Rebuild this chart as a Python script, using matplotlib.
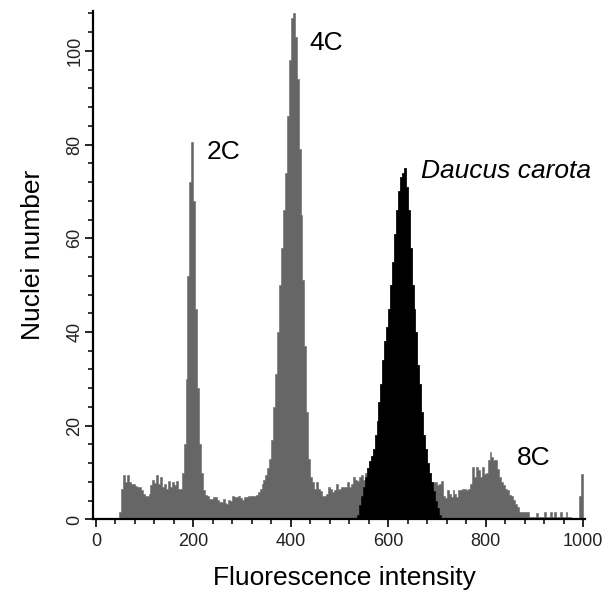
import numpy as np
import matplotlib.pyplot as plt
import matplotlib as mpl
from matplotlib.ticker import MultipleLocator

# Set Matplotlib Defaults
mpl.rcParams["font.family"] = "sans-serif"
mpl.rcParams["font.sans-serif"] = ["Liberation Sans", "DejaVu Sans"]

# Histogram channels (width 4 intensity units)
bin_width = 4
bin_start = 0
bin_stop = 1000

# total nuclei counts per channel (grey histogram), one row per 40 units
all_counts = [
    0, 0, 0, 0, 0, 0, 0, 0, 0, 0,
    0, 0, 1.5, 6.5, 9.4, 8, 9.4, 8, 7.6, 7.6,
    7.2, 6.9, 6.9, 6.2, 5.5, 5.1, 5.1, 5.5, 7.3, 8.5,
    7.8, 9.4, 7.5, 9, 7, 7.5, 6.5, 8.3, 7, 8,
    7.3, 8.3, 6.6, 6.5, 10, 16, 30, 52, 72, 80.6,
    68, 45, 28, 16, 10, 6.2, 5.2, 5, 4.4, 4.4,
    4.8, 4.8, 4.1, 3.7, 3.7, 4.4, 3.5, 3.3, 4.1, 4,
    5.1, 4.8, 4.8, 5.1, 4.5, 4.1, 4.8, 4.8, 5.1, 5,
    5.1, 5.1, 5.3, 5.8, 6.6, 7.5, 8.5, 9.5, 11, 13,
    17, 24, 31, 40, 50, 58, 66, 74, 86, 98,
    107, 108, 103, 94, 79, 65, 51, 37, 23, 13,
    9, 8, 6.5, 8, 6.5, 6, 5, 5, 5.5, 7,
    6.5, 5.8, 6.2, 7.5, 6.2, 6.5, 7, 6.9, 7, 8,
    6.9, 7.5, 9, 8.5, 8.3, 9, 9.5, 8.5, 10, 11,
    12.5, 13.5, 15, 18, 21, 25, 29, 34, 38, 41,
    45, 50, 55, 61, 66, 70, 73, 74, 75, 71,
    66, 58, 50, 45, 40, 33, 29, 23, 18, 15,
    12, 10, 8, 8, 8, 7.3, 7.5, 8.3, 5, 4.5,
    6.2, 5.5, 4.8, 6.2, 5.5, 4.8, 6.2, 6.2, 6.6, 6.6,
    6.2, 6.5, 7.6, 11.2, 9, 11.2, 10.5, 9, 11.2, 9.8,
    10, 12.6, 14.4, 13.3, 12.6, 12.6, 10.8, 9, 8, 7.3,
    6.5, 6.2, 5.3, 5, 4.1, 3.3, 2.6, 1.6, 1.6, 1.6,
    1.6, 1.6, 0.5, 0.5, 0.5, 0.5, 1.4, 0.5, 0.5, 0.5,
    1.6, 0.5, 0.5, 1.6, 0.5, 1.6, 0.5, 0.5, 1.6, 0.5,
    0.5, 1.6, 0.5, 0.5, 0.3, 0.3, 0.3, 0.3, 5, 9.8,
]

# gated Daucus carota standard (black histogram)
gate_start = 536
gate_counts = [
    1, 3, 5, 7, 9, 11,
    12.5, 13.5, 15, 18, 21, 25, 29, 34, 38, 41,
    45, 50, 55, 61, 66, 70, 73, 74, 75, 71,
    66, 58, 50, 45, 40, 33, 29, 23, 18, 15,
    12, 10, 8, 6, 4, 2.5, 1,
]

# peak labels
peak_labels = ["2C", "4C", "Daucus carota", "8C"]
peak_x = [228, 439, 668, 864]
peak_y = [77, 100.2, 72.9, 11.6]
peak_italic = [False, False, True, False]

grey = "#666666"

# make figure
fig = plt.figure(figsize=(6.03, 5.92), dpi=100)
ax = fig.add_axes([0.1542, 0.1225, 0.816, 0.859])

edges = np.arange(bin_start, bin_stop + bin_width, bin_width)
ax.stairs(all_counts, edges, fill=True, facecolor=grey, edgecolor=grey, linewidth=0.4)

gate_edges = np.arange(gate_start, gate_start + bin_width * (len(gate_counts) + 1), bin_width)
ax.stairs(gate_counts, gate_edges, fill=True, facecolor="black", edgecolor="black", linewidth=0.4)

# peak labels
for label, x, y, it in zip(peak_labels, peak_x, peak_y, peak_italic):
    ax.text(x, y, label, fontsize=19, style="italic" if it else "normal",
            ha="left", va="baseline", color="black")

# axis parameters
ax.set_xlim(-6, 1004)
ax.set_ylim(0, 108.5)
ax.spines["top"].set_visible(False)
ax.spines["right"].set_visible(False)
for side in ["left", "bottom"]:
    ax.spines[side].set_linewidth(1.6)
ax.xaxis.set_major_locator(MultipleLocator(200))
ax.xaxis.set_minor_locator(MultipleLocator(40))
ax.yaxis.set_major_locator(MultipleLocator(20))
ax.yaxis.set_minor_locator(MultipleLocator(4))
ax.tick_params(which="major", direction="out", length=6, width=1.2,
               labelsize=13, labelcolor="#222222", pad=4)
ax.tick_params(axis="y", which="major", pad=1)
ax.tick_params(which="minor", direction="out", length=3.6, width=1.1)
for lab in ax.get_yticklabels():
    lab.set_rotation(90)
    lab.set_va("center")

fig.text(0.572, 0.012, "Fluorescence intensity", fontsize=19, ha="center", va="baseline")
fig.text(0.054, 0.570, "Nuclei number", fontsize=19, rotation=90, ha="center", va="center")

fig.savefig("out.png", dpi=100)
